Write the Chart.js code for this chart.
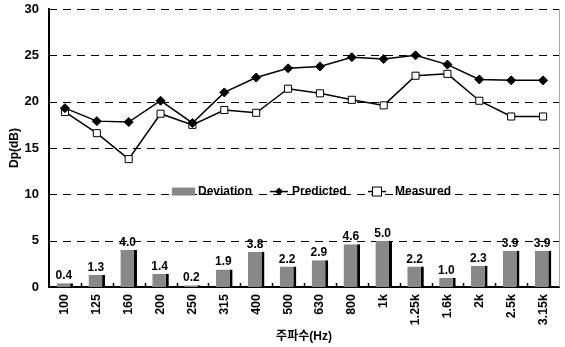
<!DOCTYPE html>
<html><head><meta charset="utf-8">
<script src="https://cdn.jsdelivr.net/npm/chart.js"></script>
<style>html,body{margin:0;padding:0;background:#fff}</style>
</head><body>
<canvas id="c" width="565" height="347"></canvas>
<script>
const categories = ['100','125','160','200','250','315','400','500','630','800','1k','1.25k','1.6k','2k','2.5k','3.15k'];
const predicted = [19.3,17.9,17.8,20.1,17.7,21.0,22.6,23.6,23.8,24.8,24.6,25.0,24.0,22.4,22.3,22.3];
const measured  = [18.9,16.6,13.8,18.7,17.5,19.1,18.8,21.4,20.9,20.2,19.6,22.8,23.0,20.1,18.4,18.4];
const deviation = [0.4,1.3,4.0,1.4,0.2,1.9,3.8,2.2,2.9,4.6,5.0,2.2,1.0,2.3,3.9,3.9];
const yTicks = [0,5,10,15,20,25,30];
const legendLabels = ['Deviation','Predicted','Measured'];
const xTitle = '주파수(Hz)';
const yTitle = 'Dp(dB)';

const FONT = "'Liberation Sans','Noto Sans CJK KR',Arial,sans-serif";

const gridPlugin = {
  id: 'dashGrid',
  beforeDatasetsDraw(chart) {
    const ctx = chart.ctx;
    const ca = chart.chartArea;
    const ys = chart.scales.y;
    ctx.save();
    ctx.strokeStyle = '#000';
    ctx.lineWidth = 1;
    ctx.setLineDash([8, 6]);
    yTicks.forEach(v => {
      if (v === 0) return;
      const y = Math.round(ys.getPixelForValue(v)) + 0.5;
      ctx.beginPath();
      ctx.moveTo(ca.left, y);
      ctx.lineTo(ca.right, y);
      ctx.stroke();
    });
    ctx.restore();
  }
};

const decorPlugin = {
  id: 'decor',
  afterDatasetsDraw(chart) {
    const ctx = chart.ctx;
    const ca = chart.chartArea;
    const xs = chart.scales.x;
    const meta = chart.getDatasetMeta(0);
    ctx.save();
    ctx.font = "bold 12px " + FONT;
    ctx.fillStyle = '#000';
    ctx.textAlign = 'center';
    ctx.textBaseline = 'alphabetic';
    meta.data.forEach((bar, i) => {
      ctx.fillText(deviation[i].toFixed(1), bar.x - 1, bar.y - 4);
    });
    ctx.strokeStyle = '#000';
    ctx.lineWidth = 1.5;
    for (let i = 1; i < categories.length; i++) {
      const x = Math.round((xs.getPixelForValue(i - 1) + xs.getPixelForValue(i)) / 2) + 0.5;
      ctx.beginPath();
      ctx.moveTo(x, ca.bottom - 4);
      ctx.lineTo(x, ca.bottom);
      ctx.stroke();
    }
    ctx.strokeStyle = '#aaa';
    ctx.lineWidth = 1;
    ctx.beginPath();
    ctx.moveTo(ca.right + 0.5, ca.top);
    ctx.lineTo(ca.right + 0.5, ca.bottom);
    ctx.stroke();
    const ly = chart.scales.y.getPixelForValue(10.3);
    let lx = ca.left + 123;
    ctx.font = "bold 12px " + FONT;
    ctx.textAlign = 'left';
    ctx.textBaseline = 'middle';
    ctx.fillStyle = '#888';
    ctx.fillRect(lx, ly - 4, 23, 8);
    ctx.fillStyle = '#000';
    ctx.fillText(legendLabels[0], lx + 26, ly);
    lx = ca.left + 221;
    ctx.strokeStyle = '#000';
    ctx.lineWidth = 1.5;
    ctx.beginPath(); ctx.moveTo(lx, ly); ctx.lineTo(lx + 18, ly); ctx.stroke();
    ctx.beginPath();
    ctx.moveTo(lx + 9, ly - 4); ctx.lineTo(lx + 13, ly); ctx.lineTo(lx + 9, ly + 4); ctx.lineTo(lx + 5, ly);
    ctx.closePath(); ctx.fill();
    ctx.fillText(legendLabels[1], lx + 22, ly);
    lx = ca.left + 319;
    ctx.beginPath(); ctx.moveTo(lx, ly); ctx.lineTo(lx + 18, ly); ctx.stroke();
    ctx.fillStyle = '#fff';
    ctx.lineWidth = 1;
    ctx.fillRect(lx + 4.5, ly - 4.5, 9, 9);
    ctx.strokeRect(lx + 4.5, ly - 4.5, 9, 9);
    ctx.fillStyle = '#000';
    ctx.fillText(legendLabels[2], lx + 27, ly);
    ctx.restore();
  }
};

new Chart(document.getElementById('c'), {
  data: {
    labels: categories,
    datasets: [
      {
        type: 'bar', label: legendLabels[0], data: deviation, order: 3,
        backgroundColor: '#888888',
        borderColor: '#000000',
        borderWidth: {left: 0, top: 0, bottom: 0, right: 3},
        borderSkipped: false,
        categoryPercentage: 1.0, barPercentage: 0.52
      },
      {
        type: 'line', label: legendLabels[1], data: predicted, order: 1,
        borderColor: '#000', borderWidth: 1.5, backgroundColor: '#000',
        pointStyle: 'rectRot', pointRadius: 4.5, pointBackgroundColor: '#000',
        pointBorderColor: '#000', pointBorderWidth: 1, tension: 0
      },
      {
        type: 'line', label: legendLabels[2], data: measured, order: 2,
        borderColor: '#000', borderWidth: 1.5, backgroundColor: '#fff',
        pointStyle: 'rect', pointRadius: 5, pointBackgroundColor: '#fff',
        pointBorderColor: '#000', pointBorderWidth: 1, tension: 0
      }
    ]
  },
  options: {
    responsive: false,
    animation: false,
    devicePixelRatio: 1,
    layout: {padding: {top: 9, right: 3, left: 0, bottom: 0}},
    plugins: {legend: {display: false}, tooltip: {enabled: false}},
    scales: {
      x: {
        type: 'category', offset: true,
        grid: {display: false, drawTicks: false},
        border: {display: true, color: '#000', width: 2},
        ticks: {
          minRotation: 90, maxRotation: 90, autoSkip: false, padding: 7,
          color: '#000', font: {family: FONT, size: 12.5, weight: 'bold'}
        },
        title: {
          display: true, text: xTitle, color: '#000',
          font: {family: FONT, size: 12, weight: 'bold'},
          padding: {top: 0, bottom: 3}
        },
        afterFit(s) { s.height = 60; s.paddingLeft = 0; s.paddingRight = 0; }
      },
      y: {
        min: 0, max: 30,
        afterBuildTicks(s) { s.ticks = yTicks.map(v => ({value: v})); },
        grid: {display: false, drawTicks: false},
        border: {display: true, color: '#000', width: 2},
        ticks: {
          padding: 10, color: '#000',
          font: {family: FONT, size: 13, weight: 'bold'}
        },
        title: {
          display: true, text: yTitle, color: '#000',
          font: {family: FONT, size: 12, weight: 'bold'},
          padding: {top: 7, bottom: 0}
        },
        afterFit(s) { s.width = 49; s.paddingTop = 0; s.paddingBottom = 0; }
      }
    }
  },
  plugins: [gridPlugin, decorPlugin]
});
</script>
</body></html>
